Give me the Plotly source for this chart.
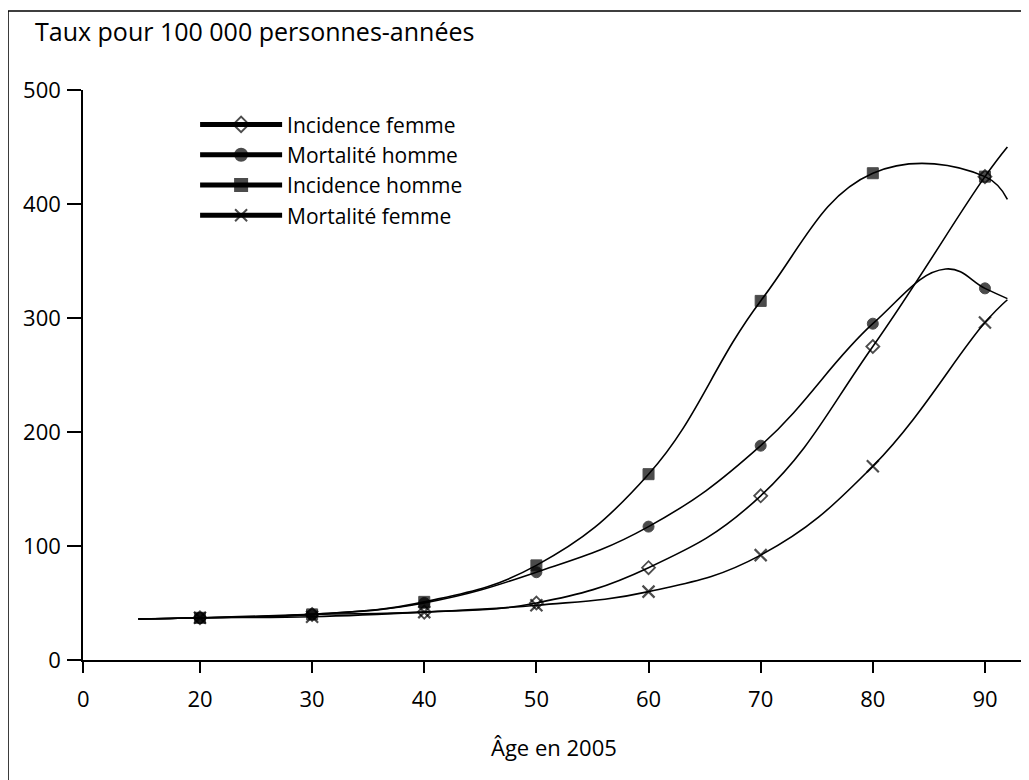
import plotly.graph_objects as go

# --- data ---
ages_inc_f = [14.5, 20, 30, 40, 50, 60, 70, 80, 90, 92]
inc_femme = [36, 37, 40, 42, 50, 81, 144, 275, 424, 450]

ages_mort_h = [14.5, 20, 30, 40, 50, 60, 70, 80, 86.5, 90, 92]
mort_homme = [36, 37, 40, 50, 77, 117, 188, 295, 343, 326, 317]

ages_inc_h = [14.5, 20, 30, 40, 50, 60, 70, 80, 90, 92]
inc_homme = [36, 37, 40, 51, 83, 163, 315, 427, 424, 404]

ages_mort_f = [14.5, 20, 30, 40, 50, 60, 70, 80, 90, 92]
mort_femme = [36, 37, 38, 42, 48, 60, 92, 170, 296, 316]

marker_ages = [20, 30, 40, 50, 60, 70, 80, 90]

x_tickvals = [9.6, 20, 30, 40, 50, 60, 70, 80, 90]
x_ticktext = ["0", "20", "30", "40", "50", "60", "70", "80", "90"]
y_tickvals = [0, 100, 200, 300, 400, 500]

FONT = "Open Sans"
BLACK = "#000000"


def sizes(ages, s):
    return [s if a in marker_ages else 0 for a in ages]


fig = go.Figure()

series = [
    ("Incidence femme", ages_inc_f, inc_femme, "diamond-open", 10, 1.8),
    ("Mortalité homme", ages_mort_h, mort_homme, "circle", 11, 1),
    ("Incidence homme", ages_inc_h, inc_homme, "square", 11, 1),
    ("Mortalité femme", ages_mort_f, mort_femme, "x-thin-open", 12, 2.2),
]

for name, xs, ys, sym, sz, lw in series:
    fig.add_trace(go.Scatter(
        x=xs, y=ys, name=name, mode="lines+markers",
        line=dict(color=BLACK, width=1.6, shape="spline", smoothing=1.2),
        marker=dict(symbol=sym, size=sizes(xs, sz), color=BLACK,
                    line=dict(color=BLACK, width=lw)),
    ))

fig.update_layout(
    width=1029, height=780,
    paper_bgcolor="white", plot_bgcolor="white",
    margin=dict(l=75, r=12, t=82, b=128),
    font=dict(family=FONT, size=22, color=BLACK),
    showlegend=True,
    legend=dict(
        x=0.119, y=0.975, xanchor="left", yanchor="top",
        bgcolor="rgba(0,0,0,0)", borderwidth=0,
        font=dict(family=FONT, size=21, color=BLACK),
        itemwidth=82, tracegroupgap=0, itemsizing="constant",
    ),
    xaxis=dict(
        range=[9.57, 93.57], tickmode="array",
        tickvals=x_tickvals, ticktext=x_ticktext,
        showline=True, linecolor=BLACK, linewidth=1.5,
        ticks="outside", ticklen=11, tickwidth=1.5, tickcolor=BLACK,
        showgrid=False, zeroline=False, ticklabelstandoff=8,
        tickfont=dict(family=FONT, size=22, color=BLACK),
    ),
    yaxis=dict(
        range=[0, 500], tickmode="array", tickvals=y_tickvals,
        showline=True, linecolor=BLACK, linewidth=1.5,
        ticks="outside", ticklen=14, tickwidth=1.5, tickcolor=BLACK,
        showgrid=False, zeroline=False, ticklabelstandoff=2,
        tickfont=dict(family=FONT, size=22, color=BLACK),
    ),
    annotations=[
        dict(text="Taux pour 100 000 personnes-années", xref="paper", yref="paper",
             x=-0.053, y=1.1035, xanchor="left", yanchor="middle", showarrow=False,
             font=dict(family=FONT, size=25, color=BLACK)),
        dict(text="Âge en 2005", xref="paper", yref="paper",
             x=0.5, y=-0.1526, xanchor="center", yanchor="middle", showarrow=False,
             font=dict(family=FONT, size=22, color=BLACK)),
    ],
    shapes=[
        dict(type="rect", xref="paper", yref="paper",
             x0=-0.0796, x1=1.2, y0=-0.3, y1=1.1386,
             line=dict(color=BLACK, width=1.5), layer="below"),
    ],
)

fig.write_html("out.html")
